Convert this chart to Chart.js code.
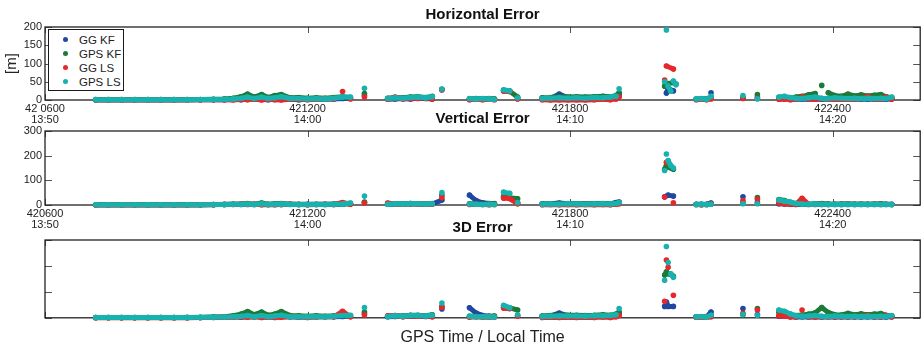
<!DOCTYPE html>
<html>
<head>
<meta charset="utf-8">
<title>Horizontal, Vertical and 3D Error</title>
<script src="https://cdn.jsdelivr.net/npm/chart.js@4.4.1/dist/chart.umd.min.js"></script>
<style>
  html, body { margin: 0; padding: 0; background: #fff; }
  body { position: relative; width: 923px; height: 350px; overflow: hidden; font-family: "Liberation Sans", Arial, sans-serif; }
  canvas { position: absolute; left: 0; }
  #legend { position: absolute; left: 48px; top: 29px; width: 74px; height: 60px; border: 1px solid #1a1a1a; background: #fff; }
  #legend div { position: absolute; left: 0; height: 14px; font-size: 11.5px; line-height: 14px; color: #222; padding-left: 30px; white-space: nowrap; }
  #legend span { position: absolute; left: 14px; top: 4.5px; width: 5px; height: 5px; border-radius: 50%; }
</style>
</head>
<body>
<canvas id="c1" width="923" height="128" style="top:0px"></canvas>
<canvas id="c2" width="923" height="129" style="top:104px"></canvas>
<canvas id="c3" width="923" height="136" style="top:213px"></canvas>
<div id="legend"></div>
<script>
// series, in legend order
var seriesNames = ['GG KF', 'GPS KF', 'GG LS', 'GPS LS'];
var seriesColors = ['#2148a0', '#1b7a37', '#e8272b', '#18b2ae'];

// x axis ticks: GPS seconds of week and local clock time
var gpsTicks = [420600, 421200, 421800, 422400];
var gpsLabelsTop = ['42 0600', '421200', '421800', '422400'];
var gpsLabels = ['420600', '421200', '421800', '422400'];
var localTime = ['13:50', '14:00', '14:10', '14:20'];

// sample epochs [GPS s]
var gpsTime = [
  420716, 420745, 420775, 420805, 420835, 420865, 420895, 420925, 420955, 420985,
  421010, 421030, 421048, 421063, 421078, 421095, 421110, 421125, 421140, 421160, 421180, 421200, 421220, 421240, 421260, 421280,
  421298, 421330,
  421383, 421400, 421418, 421435, 421452, 421470, 421485,
  421507,
  421570, 421585, 421600, 421615, 421627,
  421648, 421662, 421680,
  421736, 421755, 421775, 421795, 421815, 421835, 421855, 421875, 421892, 421905,
  421912,
  422016, 422020, 422024, 422030, 422036, 422042,
  422088, 422100, 422112, 422122,
  422195, 422228,
  422277, 422290, 422303, 422316, 422330, 422345, 422360, 422375, 422390, 422405, 422420, 422435, 422450, 422465, 422480, 422495, 422510, 422522, 422535
];

// horizontal error [m]
var hGGKF = [
  0.5, 0.5, 0.5, 0.5, 0.5, 0.5, 0.5, 0.5, 0.5, 1,
  1, 2, 1, 2, 3, 2, 1, 2, 3, 2, 1, 2, 3, 2, 3, 4,
  5, 12,
  2, 3, 4, 3, 5, 4, 3,
  28,
  2, 2, 3, 2, 2,
  25, 24, 4,
  3, 5, 16, 6, 4, 5, 4, 5, 4, 6,
  14,
  null, 19, 32, null, 25, null,
  2, 3, 3, 20,
  5, 8,
  3, 4, 3, 2, 3, 2, 3, 2, 3, 2, 3, 2, 3, 2, 3, 2, 3, 2, 3
];
var hGPSKF = [
  1, 1, 1, 1, 1, 1, 1, 1.5, 1.5, 2,
  3, 5, 9, 16, 8, 15, 7, 12, 15, 6, 7, 5, 6, 5, 7, 9,
  6, 18,
  5, 7, 6, 8, 9, 7, 10,
  29,
  3, 4, 3, 4, 3,
  26, 24, 8,
  6, 7, 9, 8, 9, 8, 9, 10, 9, 12,
  20,
  38, null, 45, null, 48, 44,
  2, 3, 2, 8,
  6, 15,
  4, 6, 5, 8, 10, 14, 18, 40, 20, 12, 10, 16, 11, 14, 11, 13, 15, 9, 6
];
var hGGLS = [
  0, 0, 0, 0, 0, 0, 0, 0, 0.5, 0.5,
  1, 0, 2, 1, 3, 0, 2, 1, 0, 2, 3, 1, 2, 4, 3, 23,
  3, 8,
  2, 8, 3, 5, 4, 6, 3,
  28,
  1, 2, 1, 2, 1,
  25, 23, 3,
  1, 0, 1, 0, 1, 0, 1, 2, 1, 3,
  8,
  55, 93, null, null, 85, null,
  1, 2, 1, 3,
  4, 5,
  2, 3, 1, 2, 8, 3, 2, 4, 3, 2, 3, 2, 3, 4, 9, 3, 2, 8, 3
];
var hGPSLS = [
  1, 1, 1, 1, 1, 1, 1, 1, 1.5, 1.5,
  2, 3, 5, 8, 4, 8, 4, 6, 9, 4, 4, 3, 4, 3, 5, 8,
  8, 32,
  4, 6, 5, 7, 8, 6, 9,
  30,
  4, 3, 4, 3, 2,
  28, 25, 6,
  4, 5, 6, 5, 6, 5, 7, 6, 8, 10,
  31,
  50, 192, 38, 24, 52, 42,
  3, 4, 2, 10,
  12, 3,
  8, 10, 7, 5, 4, 6, 8, 5, 4, 6, 5, 4, 5, 4, 5, 4, 5, 4, 8
];

// vertical error [m]
var vGGKF = [
  1, 1, 1, 1, 1, 1, 1, 1, 1, 2,
  2, 3, 2, 3, 2, 3, 2, 3, 2, 3, 2, 3, 2, 3, 2, 3,
  6, 10,
  3, 4, 3, 5, 4, 3, 4,
  20,
  40, 18, 9, 6, 5,
  30, 28, 8,
  4, 5, 8, 5, 4, 5, 4, 5, 4, 10,
  12,
  33, null, 40, null, 36, null,
  3, 2, 3, 8,
  33, 10,
  5, 4, 3, 2, 3, 2, 3, 2, 3, 2, 3, 2, 3, 2, 3, 2, 3, 2, 3
];
var vGPSKF = [
  1, 1, 1, 1, 1, 1, 1, 1, 1, 2,
  2, 3, 4, 6, 3, 8, 3, 5, 6, 3, 3, 2, 3, 2, 4, 5,
  5, 12,
  4, 5, 4, 6, 5, 4, 6,
  40,
  5, 4, 3, 4, 6,
  35, 30, 25,
  4, 5, 4, 6, 5, 4, 5, 6, 5, 7,
  8,
  145, 160, 155, 150, 145, null,
  2, 3, 2, 4,
  10, 30,
  22, 18, 10, 5, 4, 3, 5, 6, 4, 3, 4, 5, 3, 4, 3, 4, 5, 3, 2
];
var vGGLS = [
  0, 0, 0, 0, 0, 0, 0, 0, 1, 1,
  3, 2, 4, 2, 3, 1, 2, 1, 2, 3, 2, 1, 2, 3, 2, 10,
  3, 8,
  8, 4, 3, 6, 4, 5, 3,
  30,
  2, 3, 2, 1, 2,
  28, 26, 5,
  1, 2, 1, 2, 1, 2, 1, 2, 1, 3,
  5,
  32, 173, null, null, 9, null,
  2, 1, 2, 3,
  18, 23,
  8, 5, 4, 3, 27, 3, 2, 3, 2, 3, 2, 3, 2, 3, 2, 3, 2, 3, 2
];
var vGPSLS = [
  1, 1, 1, 1, 1, 1, 1, 1, 1, 2,
  2, 3, 3, 4, 2, 5, 2, 3, 4, 2, 2, 2, 3, 2, 3, 4,
  8, 36,
  3, 5, 4, 6, 5, 4, 5,
  50,
  4, 3, 2, 3, 2,
  52, 47, 10,
  3, 4, 3, 5, 4, 3, 4, 5, 4, 6,
  10,
  140, 207, 180, 160, 150, null,
  2, 3, 2, 3,
  5, 5,
  20, 15, 12, 6, 4, 3, 4, 3, 2, 3, 2, 3, 2, 3, 2, 3, 2, 3, 2
];

// 3D error [m]
var dGGKF = [
  1, 1, 1, 1, 1, 1, 1, 1, 1, 2,
  2, 4, 2, 4, 4, 4, 2, 4, 4, 4, 2, 4, 4, 4, 4, 5,
  8, 16,
  4, 5, 5, 6, 6, 5, 5,
  34,
  39, 18, 9, 6, 5,
  39, 37, 9,
  5, 7, 18, 8, 6, 7, 6, 7, 6, 12,
  18,
  44, 61, 44, null, 44, null,
  4, 4, 4, 22,
  36, 13,
  6, 6, 4, 3, 4, 3, 4, 3, 4, 3, 4, 3, 4, 3, 4, 3, 4, 3, 4
];
var dGPSKF = [
  1, 1, 1, 1, 1, 1, 1, 1.5, 1.5, 3,
  4, 8, 14, 24, 12, 22, 10, 14, 24, 9, 8, 6, 8, 6, 8, 11,
  8, 22,
  6, 9, 7, 10, 10, 8, 12,
  44,
  6, 6, 4, 6, 7,
  44, 38, 30,
  7, 9, 10, 10, 10, 9, 10, 12, 10, 14,
  22,
  165, 177, 170, 168, 160, null,
  3, 4, 3, 9,
  12, 36,
  22, 19, 11, 9, 11, 14, 19, 40, 20, 12, 11, 17, 12, 15, 12, 14, 16, 10, 7
];
var dGGLS = [
  0, 0, 0, 0, 0, 0, 0, 0, 1, 1,
  3, 2, 4, 2, 4, 1, 3, 1, 2, 4, 4, 1, 3, 5, 4, 25,
  4, 11,
  8, 9, 4, 8, 6, 8, 4,
  41,
  2, 4, 2, 2, 2,
  38, 35, 6,
  1, 2, 1, 2, 1, 2, 1, 3, 1, 4,
  9,
  64, 223, 195, null, 87, null,
  2, 2, 2, 4,
  17, 30,
  8, 6, 4, 4, 30, 4, 3, 5, 4, 4, 4, 4, 4, 5, 9, 4, 3, 9, 4
];
var dGPSLS = [
  1, 1, 1, 1, 1, 1, 1, 1, 2, 2,
  3, 4, 6, 9, 4, 9, 4, 7, 10, 4, 4, 4, 5, 4, 6, 9,
  10, 40,
  5, 8, 6, 9, 9, 7, 10,
  57,
  6, 4, 4, 4, 3,
  48, 39, 12,
  5, 6, 7, 7, 7, 6, 8, 8, 9, 12,
  36,
  145, 275, 213, 170, 156, null,
  4, 5, 3, 10,
  13, 10,
  30, 25, 15, 8, 6, 7, 9, 6, 5, 7, 6, 5, 6, 5, 6, 5, 6, 5, 9
];

Chart.defaults.font.family = '"Liberation Sans", Arial, Helvetica, sans-serif';
Chart.defaults.color = '#222';

// legend box (sits inside the first axes)
var legend = document.getElementById('legend');
seriesNames.forEach(function(name, i) {
  var row = document.createElement('div');
  row.style.top = (2.5 + i * 14) + 'px';
  row.innerHTML = '<span style="background:' + seriesColors[i] + '"></span>' + name;
  legend.appendChild(row);
});

// no line between samples far apart in time or in value: they were dots
var segColor = function(ctx) {
  var pts = ctx.chart.data.datasets[ctx.datasetIndex].data;
  var dt = pts[ctx.p1DataIndex].x - pts[ctx.p0DataIndex].x;
  var dy = Math.abs(ctx.p1.y - ctx.p0.y);
  return (dt > 30 || dy > 6) ? 'rgba(0,0,0,0)' : undefined;
};

var toPoints = function(values) {
  var pts = [];
  for (var i = 0; i < values.length; i++) {
    if (values[i] !== null) pts.push({x: gpsTime[i], y: values[i]});
  }
  return pts;
};

// matlab like box with inward ticks
var frame = {
  id: 'frame',
  beforeDatasetsDraw: function(chart) {
    var ctx = chart.ctx, a = chart.chartArea, xs = chart.scales.x, ys = chart.scales.y;
    ctx.save();
    ctx.strokeStyle = '#555';
    ctx.lineWidth = 1;
    ctx.beginPath();
    xs.ticks.forEach(function(t) {
      var p = Math.round(xs.getPixelForValue(t.value)) + 0.5;
      ctx.moveTo(p, a.bottom); ctx.lineTo(p, a.bottom - 6);
      ctx.moveTo(p, a.top); ctx.lineTo(p, a.top + 6);
    });
    ys.ticks.forEach(function(t) {
      var p = Math.round(ys.getPixelForValue(t.value)) + 0.5;
      ctx.moveTo(a.left, p); ctx.lineTo(a.left + 7, p);
      ctx.moveTo(a.right, p); ctx.lineTo(a.right - 7, p);
    });
    ctx.stroke();
    ctx.strokeStyle = '#222';
    ctx.lineWidth = 1.3;
    ctx.strokeRect(a.left, a.top, a.right - a.left, a.bottom - a.top);
    ctx.restore();
  }
};

var makePanel = function(id, title, series, yMax, yTicks, opts) {
  var datasets = series.map(function(values, i) {
    return {
      label: seriesNames[i],
      data: toPoints(values),
      borderColor: seriesColors[i],
      backgroundColor: seriesColors[i],
      borderWidth: 5,
      borderCapStyle: 'round',
      borderJoinStyle: 'round',
      pointRadius: 2.8,
      pointBorderWidth: 0,
      pointHoverRadius: 0,
      tension: 0,
      clip: 6,
      order: 4 - i,
      segment: {borderColor: segColor}
    };
  });
  return new Chart(document.getElementById(id), {
    type: 'line',
    data: {datasets: datasets},
    options: {
      responsive: false,
      animation: false,
      devicePixelRatio: 1,
      events: [],
      layout: {padding: {left: 0, right: 1, top: 0, bottom: 0}},
      plugins: {
        legend: {display: false},
        tooltip: {enabled: false},
        title: {
          display: true, text: title, fullSize: false, color: '#111',
          font: {size: 15, weight: 'bold'},
          padding: {top: 6, bottom: 3}
        }
      },
      scales: {
        x: {
          type: 'linear', min: 420600, max: 422600,
          afterBuildTicks: function(axis) {
            axis.ticks = gpsTicks.map(function(v) { return {value: v}; });
          },
          grid: {display: false, drawTicks: false},
          border: {display: false},
          ticks: {
            display: !!opts.gpsText, autoSkip: false, maxRotation: 0, padding: 3,
            color: '#222', font: {size: 11, lineHeight: 1},
            callback: function(v, i) {
              return opts.gpsText ? [opts.gpsText[i], localTime[i]] : '';
            }
          },
          title: {
            display: !!opts.xTitle, text: opts.xTitle || '', color: '#222',
            font: {size: 16}, padding: {top: 10, bottom: 2}
          }
        },
        y: {
          type: 'linear', min: 0, max: yMax,
          afterBuildTicks: function(axis) {
            axis.ticks = yTicks.map(function(v) { return {value: v}; });
          },
          afterFit: function(scale) { scale.width = 45; },
          grid: {display: false, drawTicks: false},
          border: {display: false},
          ticks: {
            padding: 3, color: '#222', font: {size: 11},
            callback: function(v) { return opts.yLabels ? String(v) : ''; }
          },
          title: {
            display: !!opts.yTitle, text: opts.yTitle || '', color: '#222',
            font: {size: 15}, padding: {top: 3, bottom: 0}
          }
        }
      }
    },
    plugins: [frame]
  });
};

makePanel('c1', 'Horizontal Error', [hGGKF, hGPSKF, hGGLS, hGPSLS], 200, [0, 50, 100, 150, 200],
  {gpsText: gpsLabelsTop, yLabels: true, yTitle: '[m]'});
makePanel('c2', 'Vertical Error', [vGGKF, vGPSKF, vGGLS, vGPSLS], 300, [0, 100, 200, 300],
  {gpsText: gpsLabels, yLabels: true});
makePanel('c3', '3D Error', [dGGKF, dGPSKF, dGGLS, dGPSLS], 300, [0, 100, 200, 300],
  {yLabels: false, xTitle: 'GPS Time / Local Time'});
</script>
</body>
</html>
